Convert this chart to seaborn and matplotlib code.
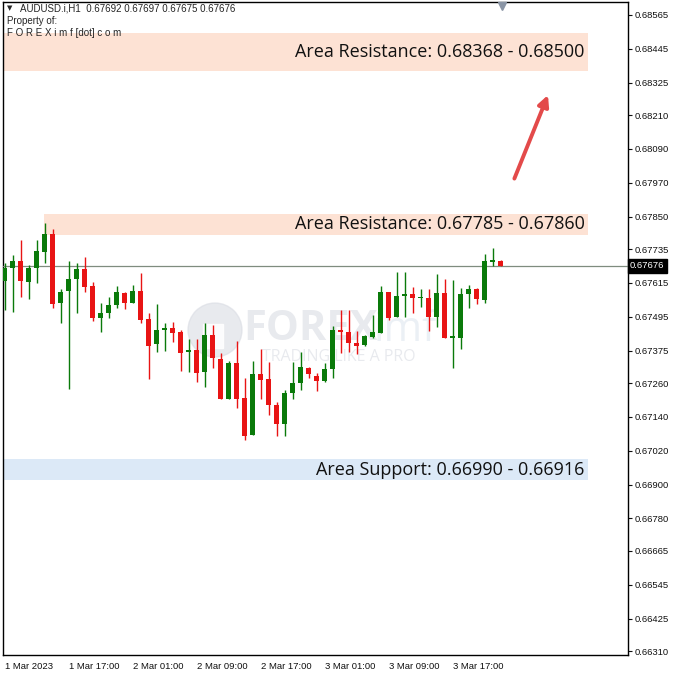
import numpy as np
import pandas as pd
import matplotlib
matplotlib.use("Agg")
import matplotlib.pyplot as plt
import matplotlib.patches as mpatches
import seaborn as sns

# AUDUSD H1 candles (1 Mar 09:00 .. 3 Mar 23:00)
opens = [0.67622, 0.67668, 0.67693, 0.67619, 0.67667, 0.67726, 0.67788, 0.67544, 0.67587, 0.67630,
         0.67663, 0.67604, 0.67492, 0.67507, 0.67537, 0.67580, 0.67543, 0.67586, 0.67487, 0.67397,
         0.67448, 0.67456, 0.67440, 0.67369, 0.67377, 0.67300, 0.67430, 0.67344, 0.67204, 0.67332,
         0.67206, 0.67076, 0.67292, 0.67274, 0.67182, 0.67114, 0.67224, 0.67259, 0.67312, 0.67285,
         0.67268, 0.67309, 0.67448, 0.67442, 0.67403, 0.67395, 0.67422, 0.67439, 0.67582, 0.67493,
         0.67569, 0.67576, 0.67560, 0.67560, 0.67493, 0.67580, 0.67421, 0.67421, 0.67575, 0.67593,
         0.67554, 0.67690, 0.67692]
highs = [0.67686, 0.67714, 0.67767, 0.67679, 0.67767, 0.67829, 0.67806, 0.67593, 0.67694, 0.67687,
         0.67708, 0.67619, 0.67545, 0.67566, 0.67604, 0.67584, 0.67608, 0.67651, 0.67509, 0.67539,
         0.67474, 0.67477, 0.67448, 0.67416, 0.67416, 0.67472, 0.67466, 0.67368, 0.67338, 0.67410,
         0.67277, 0.67339, 0.67381, 0.67336, 0.67194, 0.67235, 0.67336, 0.67371, 0.67316, 0.67295,
         0.67330, 0.67462, 0.67519, 0.67519, 0.67445, 0.67430, 0.67501, 0.67605, 0.67584, 0.67653,
         0.67655, 0.67602, 0.67592, 0.67592, 0.67646, 0.67629, 0.67625, 0.67596, 0.67608, 0.67596,
         0.67717, 0.67740, 0.67697]
lows = [0.67519, 0.67512, 0.67566, 0.67558, 0.67615, 0.67686, 0.67527, 0.67473, 0.67238, 0.67509,
        0.67584, 0.67480, 0.67442, 0.67492, 0.67525, 0.67521, 0.67543, 0.67472, 0.67273, 0.67369,
        0.67374, 0.67407, 0.67303, 0.67300, 0.67265, 0.67245, 0.67312, 0.67202, 0.67203, 0.67170,
        0.67058, 0.67076, 0.67203, 0.67147, 0.67072, 0.67072, 0.67202, 0.67235, 0.67277, 0.67232,
        0.67265, 0.67277, 0.67365, 0.67371, 0.67362, 0.67392, 0.67419, 0.67436, 0.67484, 0.67493,
        0.67495, 0.67509, 0.67531, 0.67446, 0.67458, 0.67419, 0.67312, 0.67381, 0.67525, 0.67539,
        0.67545, 0.67676, 0.67675]
closes = [0.67668, 0.67693, 0.67623, 0.67669, 0.67728, 0.67788, 0.67540, 0.67584, 0.67628, 0.67663,
          0.67602, 0.67490, 0.67507, 0.67537, 0.67582, 0.67543, 0.67586, 0.67484, 0.67392, 0.67448,
          0.67454, 0.67436, 0.67365, 0.67377, 0.67295, 0.67430, 0.67348, 0.67204, 0.67332, 0.67202,
          0.67072, 0.67292, 0.67271, 0.67181, 0.67114, 0.67224, 0.67259, 0.67316, 0.67291, 0.67268,
          0.67310, 0.67448, 0.67440, 0.67401, 0.67392, 0.67427, 0.67442, 0.67582, 0.67490, 0.67569,
          0.67576, 0.67560, 0.67564, 0.67493, 0.67580, 0.67421, 0.67427, 0.67576, 0.67592, 0.67557,
          0.67693, 0.67696, 0.67676]

current_price = 0.67676
header = "AUDUSD.i,H1  0.67692 0.67697 0.67675 0.67676"

# zones: (low, high, start bar or None for full width, label, colour)
zones = [
    (0.68368, 0.68500, None, "Area Resistance: 0.68368 - 0.68500", "#fde2d4"),
    (0.67785, 0.67860, 4.9, "Area Resistance: 0.67785 - 0.67860", "#fde2d4"),
    (0.66916, 0.66990, None, "Area Support: 0.66990 - 0.66916", "#dce9f7"),
]

y_ticks = [0.68565, 0.68445, 0.68325, 0.68210, 0.68090, 0.67970, 0.67850, 0.67735, 0.67615,
           0.67495, 0.67375, 0.67260, 0.67140, 0.67020, 0.66900, 0.66780, 0.66665, 0.66545,
           0.66425, 0.66310]
x_tick_pos = [0, 8, 16, 24, 32, 40, 48, 56]
x_tick_labels = ["1 Mar 2023", "1 Mar 17:00", "2 Mar 01:00", "2 Mar 09:00",
                 "2 Mar 17:00", "3 Mar 01:00", "3 Mar 09:00", "3 Mar 17:00"]

df = pd.DataFrame({"open": opens, "high": highs, "low": lows, "close": closes})
df["bar"] = np.arange(len(df))
df["up"] = df["close"] >= df["open"]

sns.set_style("white")
plt.rcParams['font.family'] = ['Liberation Sans', 'DejaVu Sans']

fig = plt.figure(figsize=(6.75, 6.75), dpi=100)
ax = fig.add_axes([3 / 675, 20 / 675, 625 / 675, 653 / 675])

GREEN = "#0a7a0a"
RED = "#e81414"

# zones
x_right = 72.9
for lo, hi, start, label, col in zones:
    x0 = -1 if start is None else start
    ax.fill_between([x0, x_right], lo, hi, color=col, lw=0, zorder=1)
    ax.text(x_right - 0.4, (lo + hi) / 2, label, ha="right", va="center",
            fontsize=13, family="Open Sans", color="#111111", zorder=5)

# watermark (behind the candles)
wm_gray = "#d9dce3"
circ = mpatches.Circle((2.15, 3.45), 0.27, transform=fig.dpi_scale_trans,
                       color=wm_gray, alpha=0.6, zorder=2)
ax.add_patch(circ)
sq = mpatches.Rectangle((2.03, 3.27), 0.2, 0.24, transform=fig.dpi_scale_trans,
                        color="white", alpha=0.9, zorder=2.1)
ax.add_patch(sq)
ax.text(2.43 / 6.75, 1 - 3.30 / 6.75, "FOREX", fontsize=30, fontweight="bold",
        family="Open Sans", color=wm_gray, alpha=0.6, va="center", ha="left",
        transform=fig.transFigure, zorder=2)
ax.text(3.74 / 6.75, 1 - 3.30 / 6.75, "imf", fontsize=30,
        family="Open Sans", color="#dfe6ef", alpha=0.6, va="center", ha="left",
        transform=fig.transFigure, zorder=2)
ax.text(2.62 / 6.75, 1 - 3.57 / 6.75, "TRADING LIKE A PRO", fontsize=11.5,
        family="Open Sans", color=wm_gray, alpha=0.6, va="center", ha="left",
        transform=fig.transFigure, zorder=2)

# current price line
ax.axhline(current_price, color="#7f8c7f", lw=0.9, zorder=3)

# candles
colors = np.where(df["up"], GREEN, RED)
ax.vlines(df["bar"], df["low"], df["high"], colors=colors, lw=1.0, zorder=4)
body_lo = np.minimum(df["open"], df["close"])
body_h = np.maximum(np.abs(df["close"] - df["open"]), 0.00003)
ax.bar(df["bar"], body_h, bottom=body_lo, width=0.62, color=colors, lw=0, zorder=4)

# arrow
ax.annotate("", xy=(67.9, 0.68281), xytext=(63.7, 0.67985),
            arrowprops=dict(arrowstyle="-|>", color="#e34a4a", lw=2.8,
                            mutation_scale=16, shrinkA=0, shrinkB=0), zorder=5)

# header text
ax.text(0.006, 0.995, "\u25BC", transform=ax.transAxes, fontsize=5, va="top", ha="left",
        family="DejaVu Sans", zorder=6)
ax.text(0.028, 0.997, header, transform=ax.transAxes, fontsize=7, va="top", ha="left", zorder=6)
ax.text(0.006, 0.978, "Property of:", transform=ax.transAxes, fontsize=7, va="top", ha="left", zorder=6)
ax.text(0.006, 0.960, "F O R E X i m f [dot] c o m", transform=ax.transAxes, fontsize=7,
        va="top", ha="left", zorder=6)

# top chart-shift marker
ax.plot([62.2], [0.68598], marker="v", ms=6, color="#8a95a5", clip_on=False, zorder=6)

ax.set_xlim(-0.21, 77.9)
ax.set_ylim(0.66296, 0.68611)

ax.yaxis.tick_right()
ax.set_yticks(y_ticks)
ax.set_yticklabels([f"{v:.5f}" for v in y_ticks])
ax.tick_params(axis="y", direction="out", length=3, width=0.8, labelsize=6.8, pad=2, colors="#111111")
ax.set_xticks(x_tick_pos)
ax.set_xticklabels(x_tick_labels)
ax.tick_params(axis="x", direction="out", length=3, width=0.8, labelsize=6.8, pad=2, colors="#111111")
for lab in ax.get_xticklabels():
    lab.set_horizontalalignment("left")

ax.text(1.003, current_price, f"{current_price:.5f}", transform=ax.get_yaxis_transform(),
        fontsize=6.8, color="white", va="center", ha="left", zorder=7,
        bbox=dict(boxstyle="square,pad=0.25", fc="black", ec="black"))

for s in ax.spines.values():
    s.set_color("black")
    s.set_linewidth(1.0)
    s.set_visible(True)

ax.set_xlabel("")
ax.set_ylabel("")
fig.savefig("out.png", dpi=100, facecolor="white")
